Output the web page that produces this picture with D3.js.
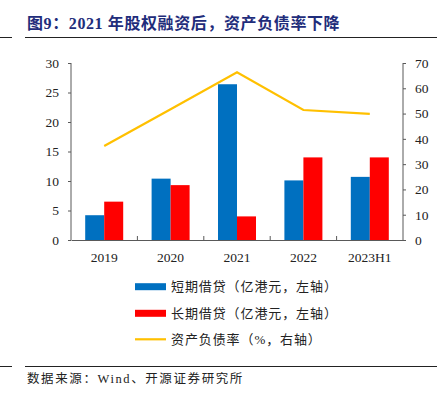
<!DOCTYPE html>
<html>
<head>
<meta charset="utf-8">
<script src="https://cdn.jsdelivr.net/npm/d3@7"></script>
<style>
body { margin: 0; background: #fff; }
svg text { font-family: "Liberation Serif", "Noto Serif CJK SC", "Noto Sans CJK SC", serif; }
.cjk { font-family: "Liberation Serif", "Noto Sans CJK SC", sans-serif; }
</style>
</head>
<body>
<div id="chart"></div>
<script>
var years = ["2019", "2020", "2021", "2022", "2023H1"];
var shortLoan = [4.2, 10.4, 26.4, 10.1, 10.7];
var longLoan = [6.5, 9.3, 4.0, 14.0, 14.0];
var debtRatio = [37.2, 51.7, 66.3, 51.4, 49.9];
var leftTicks = [0, 5, 10, 15, 20, 25, 30];
var rightTicks = [0, 10, 20, 30, 40, 50, 60, 70];
var seriesNames = ["短期借贷（亿港元，左轴）", "长期借贷（亿港元，左轴）", "资产负债率（%，右轴）"];

var W = 447, H = 396;
var margin = {top: 63, right: 44, bottom: 156, left: 71},
	width = W - margin.left - margin.right,
	height = H - margin.top - margin.bottom;

var svg = d3.select("#chart").append("svg")
	.attr("width", W)
	.attr("height", H);

// title + rules
svg.append("text")
	.attr("x", 27).attr("y", 29)
	.attr("class", "cjk")
	.style("font-size", "16px")
	.style("font-weight", "bold")
	.style("letter-spacing", "0.6px")
	.attr("fill", "#1f2d7b")
	.text("图9：2021 年股权融资后，资产负债率下降");

[37.5, 366.5].forEach(function(y) {
	svg.append("line").attr("x1", 25).attr("x2", 437).attr("y1", y).attr("y2", y)
		.attr("stroke", "#222").attr("stroke-width", 1);
	svg.append("line").attr("x1", 0).attr("x2", 12).attr("y1", y).attr("y2", y)
		.attr("stroke", "#222").attr("stroke-width", 1);
});

svg.append("text")
	.attr("x", 27).attr("y", 383)
	.attr("class", "cjk")
	.style("font-size", "12.5px")
	.style("letter-spacing", "1.6px")
	.attr("fill", "#222")
	.text("数据来源：Wind、开源证券研究所");

var g = svg.append("g").attr("transform", "translate(" + margin.left + "," + margin.top + ")");

var x = d3.scaleBand().domain(years).range([0, width]);
var xInner = d3.scaleBand().domain([0, 1]).range([x.bandwidth() / 2 - 19, x.bandwidth() / 2 + 19]);
var yL = d3.scaleLinear().domain([0, 30]).range([height, 0]);
var yR = d3.scaleLinear().domain([0, 70]).range([height, 0]);

var axisColor = "#595959";

// bars
var colors = ["#0070c0", "#ff0000"];
[shortLoan, longLoan].forEach(function(vals, si) {
	g.selectAll(".bar" + si)
		.data(vals)
		.enter().append("rect")
		.attr("x", function(d, i) { return x(years[i]) + xInner(si); })
		.attr("width", xInner.bandwidth())
		.attr("y", function(d) { return yL(d); })
		.attr("height", function(d) { return height - yL(d); })
		.attr("fill", colors[si]);
});

// line
var line = d3.line()
	.x(function(d, i) { return x(years[i]) + x.bandwidth() / 2; })
	.y(function(d) { return yR(d); });
g.append("path")
	.datum(debtRatio)
	.attr("d", line)
	.attr("fill", "none")
	.attr("stroke", "#ffc000")
	.attr("stroke-width", 2.2);

// axes
var left = g.append("g")
	.call(d3.axisLeft(yL).tickValues(leftTicks).tickSize(3).tickPadding(9));
var right = g.append("g")
	.attr("transform", "translate(" + width + ",0)")
	.call(d3.axisRight(yR).tickValues(rightTicks).tickSize(3).tickPadding(9));
var bottom = g.append("g")
	.attr("transform", "translate(0," + height + ")")
	.call(d3.axisBottom(x).tickSize(0).tickPadding(12));

bottom.selectAll(".cat-tick")
	.data(years.slice(1))
	.enter().append("line")
	.attr("x1", function(d) { return x(d); })
	.attr("x2", function(d) { return x(d); })
	.attr("y1", 0).attr("y2", -4)
	.attr("stroke", axisColor);

[left, right, bottom].forEach(function(a) {
	a.select(".domain").attr("stroke", axisColor);
	a.selectAll(".tick line").attr("stroke", axisColor);
	a.selectAll("text")
		.style("font-size", "13.5px")
		.attr("fill", "#222");
});
left.select(".domain").attr("d", "M0," + height + "V0");
right.select(".domain").attr("d", "M0," + height + "V0");

// legend
var legend = svg.append("g");
var rows = [286.7, 313.3, 339.3];
seriesNames.forEach(function(name, i) {
	if (i < 2) {
		legend.append("rect")
			.attr("x", 135).attr("y", rows[i] - 3.5)
			.attr("width", 31).attr("height", 7)
			.attr("fill", colors[i]);
	} else {
		legend.append("line")
			.attr("x1", 135).attr("x2", 166)
			.attr("y1", rows[i]).attr("y2", rows[i])
			.attr("stroke", "#ffc000").attr("stroke-width", 2.2);
	}
	legend.append("text")
		.attr("class", "cjk")
		.attr("x", 171).attr("y", rows[i])
		.attr("dy", "0.36em")
		.style("font-size", "13px")
		.style("letter-spacing", "0.9px")
		.attr("fill", "#222")
		.text(name);
});
</script>
</body>
</html>
